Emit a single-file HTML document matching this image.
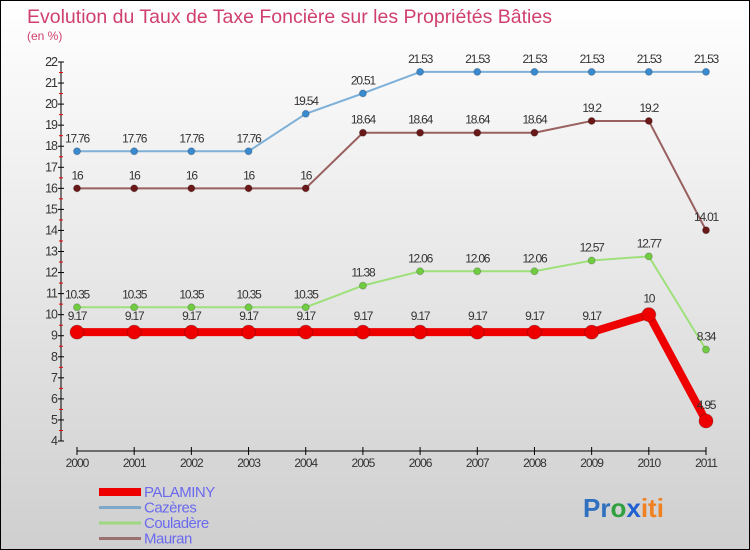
<!DOCTYPE html>
<html><head><meta charset="utf-8"><style>
body{margin:0}
#c{width:750px;height:550px;position:relative;overflow:hidden;background:linear-gradient(#ffffff,#cfcfcf);box-sizing:border-box;border:1px solid #000;font-family:"Liberation Sans",sans-serif}
svg{position:absolute;left:0;top:0}
</style></head><body>
<div id="c">
<svg id="s" width="750" height="550">
<text x="26" y="22" font-size="19.5" fill="#d0406e">Evolution du Taux de Taxe Foncière sur les Propriétés Bâties</text>
<text x="26" y="39" font-size="12" fill="#d0406e">(en %)</text>
</svg>
</div>
<script>
const years=[2000,2001,2002,2003,2004,2005,2006,2007,2008,2009,2010,2011];
const palaminy=[9.17,9.17,9.17,9.17,9.17,9.17,9.17,9.17,9.17,9.17,10,4.95];
const cazeres=[17.76,17.76,17.76,17.76,19.54,20.51,21.53,21.53,21.53,21.53,21.53,21.53];
const couladere=[10.35,10.35,10.35,10.35,10.35,11.38,12.06,12.06,12.06,12.57,12.77,8.34];
const mauran=[16,16,16,16,16,18.64,18.64,18.64,18.64,19.2,19.2,14.01];
const yTicks=[4,5,6,7,8,9,10,11,12,13,14,15,16,17,18,19,20,21,22];
const labels={palaminy:["9.17","9.17","9.17","9.17","9.17","9.17","9.17","9.17","9.17","9.17","10","4.95"],
cazeres:["17.76","17.76","17.76","17.76","19.54","20.51","21.53","21.53","21.53","21.53","21.53","21.53"],
couladere:["10.35","10.35","10.35","10.35","10.35","11.38","12.06","12.06","12.06","12.57","12.77","8.34"],
mauran:["16","16","16","16","16","18.64","18.64","18.64","18.64","19.2","19.2","14.01"]};
const NS="http://www.w3.org/2000/svg",s=document.getElementById('s');
const X=i=>76+(705-76)*i/(years.length-1);
const Y=v=>440-(v-4)*(440-61)/18;
function el(t,a,p){const e=document.createElementNS(NS,t);for(const k in a)e.setAttribute(k,a[k]);(p||s).appendChild(e);return e;}
const ax=el('g',{});


el('line',{x1:60,y1:Y(22),x2:60,y2:Y(4),stroke:'#000'},ax);
yTicks.forEach(v=>{el('line',{x1:57,x2:63,y1:Y(v),y2:Y(v),stroke:'#000'},ax);
 if(v<22)el('line',{x1:58,x2:62,y1:Y(v+0.5),y2:Y(v+0.5),stroke:'#e00'},ax);
 const t=el('text',{x:56,y:Y(v)+4,'font-size':12.5,fill:'#333','text-anchor':'end','letter-spacing':'-1'},ax);t.textContent=v;
 });
const xa=el('g',{});


el('line',{x1:X(0),x2:X(11),y1:450,y2:450,stroke:'#000'},xa);
years.forEach((y,i)=>{el('line',{x1:X(i),x2:X(i),y1:446,y2:454,stroke:'#000'},xa);
 const t=el('text',{x:X(i),y:466,'font-size':12,fill:'#333','text-anchor':'middle','letter-spacing':'-1'},xa);t.textContent=y;
 });
function series(name,data,lab,color,dot,w,r,dy){
 const g=el('g',{});
 
 
 el('polyline',{points:data.map((v,i)=>X(i)+','+Y(v)).join(' '),fill:'none',stroke:color,'stroke-width':w,'stroke-linejoin':'round'},g);
 data.forEach((v,i)=>{const c=el('circle',{cx:X(i),cy:Y(v),r:r,fill:dot,stroke:'#0003'},g);
  
  const t=el('text',{x:X(i),y:Y(v)+dy,'font-size':12,fill:'#333','text-anchor':'middle','letter-spacing':'-1.2'},g);t.textContent=lab[i];
  });
}
series('cazeres',cazeres,labels.cazeres,'#7fb0d8','#3a8ad0',2,3.5,-9);
series('mauran',mauran,labels.mauran,'#9a6060','#6a1818',2,3.5,-9);
series('couladere',couladere,labels.couladere,'#9ee07a','#70cc40',2,3.5,-9);
series('palaminy',palaminy,labels.palaminy,'#ee0000','#ee0000',8,7,-12);
const lg=[['PALAMINY','#ee0000',8],['Cazères','#7fa8c8',3],['Couladère','#9ed880',3],['Mauran','#9a7070',3]];
lg.forEach((l,i)=>{const g=el('g',{});
 
 const y=491+i*15.5;
 el('line',{x1:98,x2:140,y1:y,y2:y,stroke:l[1],'stroke-width':l[2]},g);
 const t=el('text',{x:143,y:y+5,'font-size':15,fill:'#6a6aee','letter-spacing':'-0.5'},g);t.textContent=l[0];});
const lo=el('text',{x:582,y:516,'font-size':26,'font-weight':'bold'});

lo.innerHTML='<tspan fill="#3070c0">Pr</tspan><tspan fill="#30a040">o</tspan><tspan fill="#2060d0">x</tspan><tspan fill="#f08020">iti</tspan>';
</script>
</body></html>
